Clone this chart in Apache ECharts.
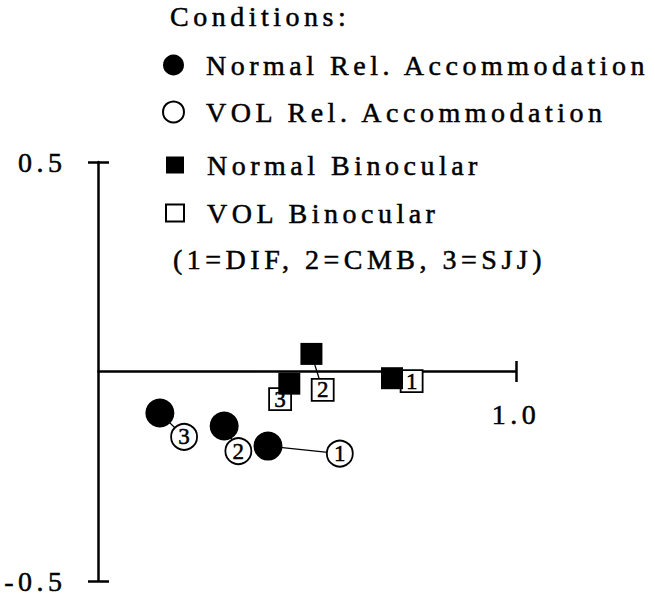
<!DOCTYPE html>
<html><head><meta charset="utf-8">
<script src="https://cdn.jsdelivr.net/npm/echarts@6/dist/echarts.min.js"></script>
<style>
html,body{margin:0;padding:0;background:#fff;}
#c{width:655px;height:599px;}
#c text{stroke:#000;stroke-width:0.5px;}
#c text[style*="28px"]{letter-spacing:4.5px;}
</style></head><body><div id="c"></div>
<script>
// 1=DIF, 2=CMB, 3=SJJ
const groups = ['1', '2', '3'];
const normalRelX = [0.406, 0.301, 0.147];
const normalRelY = [-0.178, -0.130, -0.099];
const volRelX = [0.578, 0.335, 0.205];
const volRelY = [-0.196, -0.190, -0.156];
const normalBinX = [0.703, 0.510, 0.457];
const normalBinY = [-0.016, 0.042, -0.029];
const volBinX = [0.750, 0.537, 0.435];
const volBinY = [-0.023, -0.044, -0.066];
const yTicks = [-0.5, 0.5];
const yTickLabels = ['-0.5', '0.5'];
const xTicks = [1];
const xTickLabels = ['1.0'];
const legendTitle = 'Conditions:';
const codeNote = '(1=DIF, 2=CMB, 3=SJJ)';

const FONT = 'Liberation Serif';
const FS = 28;
const chart = echarts.init(document.getElementById('c'), null, {renderer: 'svg'});

function pts(xs, ys) {
  return xs.map((x, i) => ({value: [x, ys[i]], name: groups[i]}));
}
function fmt(ticks, labels) {
  return v => { const i = ticks.findIndex(t => Math.abs(t - v) < 1e-9); return i >= 0 ? labels[i] : ''; };
}

const series = [];
for (let i = 0; i < groups.length; i++) {
  series.push({type: 'line', silent: true, symbol: 'none', z: 1,
    lineStyle: {color: '#000', width: 1.3},
    data: [[normalRelX[i], normalRelY[i]], [volRelX[i], volRelY[i]]]});
  series.push({type: 'line', silent: true, symbol: 'none', z: 1,
    lineStyle: {color: '#000', width: 1.3},
    data: [[normalBinX[i], normalBinY[i]], [volBinX[i], volBinY[i]]]});
}
const numLabel = {show: true, position: 'inside', formatter: '{b}', color: '#000', fontSize: 23, fontFamily: FONT};
series.push({name: 'Normal Rel. Accommodation', type: 'scatter', symbol: 'circle', symbolSize: 29, z: 3, silent: true,
  itemStyle: {color: '#000', opacity: 1}, data: pts(normalRelX, normalRelY)});
series.push({name: 'VOL Rel. Accommodation', type: 'scatter', symbol: 'circle', symbolSize: 26, z: 4, silent: true,
  itemStyle: {color: '#fff', borderColor: '#000', borderWidth: 1.8, opacity: 1}, label: numLabel, data: pts(volRelX, volRelY)});
series.push({name: 'VOL Binocular', type: 'scatter', symbol: 'rect', symbolSize: 22, z: 3, silent: true,
  itemStyle: {color: '#fff', borderColor: '#000', borderWidth: 1.8, opacity: 1}, label: numLabel, data: pts(volBinX, volBinY)});
series.push({name: 'Normal Binocular', type: 'scatter', symbol: 'rect', symbolSize: 22, z: 4, silent: true,
  itemStyle: {color: '#000', opacity: 1}, data: pts(normalBinX, normalBinY)});

const legText = {fontSize: FS, fontFamily: FONT, color: '#000', lineHeight: FS};
const ZERO_OFFSET = -209.5; // move x-axis from grid bottom up to y = 0
const option = {
  animation: false,
  backgroundColor: '#fff',
  title: {text: legendTitle, left: 170, top: 2.5, padding: 0,
    textStyle: {fontSize: FS, fontFamily: FONT, fontWeight: 'normal', color: '#000', lineHeight: FS}},
  legend: [
    {orient: 'vertical', left: 162, top: 51, padding: 0, itemGap: 19, itemWidth: 21, itemHeight: 21,
      selectedMode: false, data: ['Normal Rel. Accommodation', 'VOL Rel. Accommodation'],
      textStyle: Object.assign({padding: [0, 0, 0, 17]}, legText)},
    {orient: 'vertical', left: 165, top: 151, padding: 0, itemGap: 20, itemWidth: 18, itemHeight: 17,
      selectedMode: false, data: ['Normal Binocular', 'VOL Binocular'],
      textStyle: Object.assign({padding: [0, 0, 0, 18]}, legText)}
  ],
  graphic: [{type: 'text', left: 173, top: 245, silent: true,
    style: {text: codeNote, fontSize: FS, fontFamily: FONT, fill: '#000'}}],
  grid: {left: 98.5, top: 162, width: 417.5, height: 419, containLabel: false, outerBoundsMode: 'none'},
  xAxis: [
    {type: 'value', min: 0, max: 1, position: 'bottom', offset: ZERO_OFFSET,
      axisLine: {onZero: false, lineStyle: {color: '#000', width: 2.5}},
      axisTick: {show: true, customValues: xTicks, length: 10.5, lineStyle: {color: '#000', width: 2.5}},
      axisLabel: {customValues: xTicks, formatter: fmt(xTicks, xTickLabels), margin: 28.5, fontSize: FS, fontFamily: FONT, color: '#000'},
      splitLine: {show: false}},
    {type: 'value', min: 0, max: 1, position: 'bottom', offset: ZERO_OFFSET,
      axisLine: {show: false, onZero: false},
      axisTick: {show: true, inside: true, customValues: xTicks, length: 10.5, lineStyle: {color: '#000', width: 2.5}},
      axisLabel: {show: false}, splitLine: {show: false}}
  ],
  yAxis: [
    {type: 'value', min: -0.5, max: 0.5, position: 'left',
      axisLine: {show: true, onZero: false, lineStyle: {color: '#000', width: 2.5}},
      axisTick: {show: true, customValues: yTicks, length: 10.5, lineStyle: {color: '#000', width: 2.5}},
      axisLabel: {customValues: yTicks, formatter: fmt(yTicks, yTickLabels), margin: 32, fontSize: FS, fontFamily: FONT, color: '#000'},
      splitLine: {show: false}},
    {type: 'value', min: -0.5, max: 0.5, position: 'left',
      axisLine: {show: false, onZero: false},
      axisTick: {show: true, inside: true, customValues: yTicks, length: 10.5, lineStyle: {color: '#000', width: 2.5}},
      axisLabel: {show: false}, splitLine: {show: false}}
  ],
  series: series
};
chart.setOption(option);
</script></body></html>
